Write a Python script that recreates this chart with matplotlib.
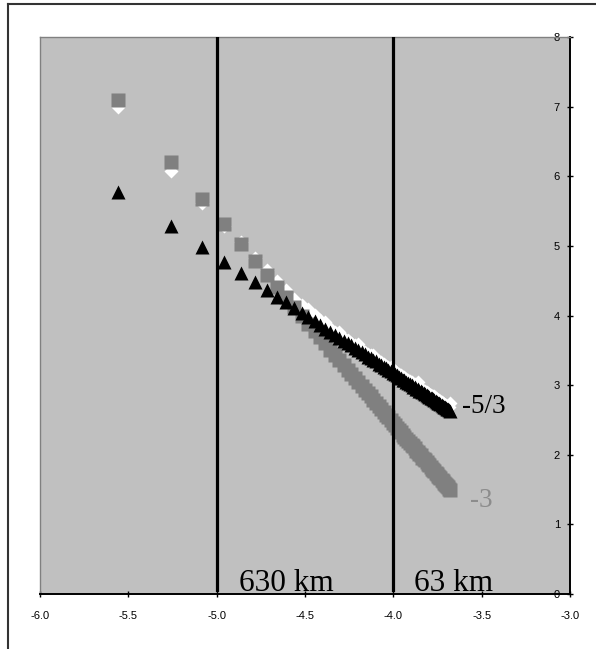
import matplotlib
matplotlib.use("Agg")
import matplotlib.pyplot as plt
from matplotlib.lines import Line2D

# log10 wavenumber (shared by all three spectra)
log_k = [-5.560, -5.259, -5.083, -4.958, -4.861, -4.782, -4.715, -4.657, -4.606, -4.560,
         -4.519, -4.481, -4.446, -4.414, -4.384, -4.356, -4.330, -4.305, -4.281, -4.259,
         -4.238, -4.218, -4.198, -4.180, -4.162, -4.145, -4.129, -4.113, -4.098, -4.083,
         -4.069, -4.055, -4.041, -4.029, -4.016, -4.004, -3.992, -3.980, -3.969, -3.958,
         -3.947, -3.937, -3.927, -3.917, -3.907, -3.897, -3.888, -3.879, -3.870, -3.861,
         -3.852, -3.844, -3.836, -3.828, -3.820, -3.812, -3.804, -3.797, -3.789, -3.782,
         -3.775, -3.768, -3.761, -3.754, -3.747, -3.740, -3.734, -3.727, -3.721, -3.715,
         -3.709, -3.703, -3.697, -3.691, -3.685, -3.679]

# log10 spectral power, -3 slope series (grey squares)
spec_sq = [7.10, 6.20, 5.68, 5.31, 5.02, 4.78, 4.58, 4.41, 4.26, 4.12,
           4.00, 3.88, 3.78, 3.69, 3.60, 3.51, 3.43, 3.36, 3.29, 3.22,
           3.16, 3.10, 3.04, 2.99, 2.93, 2.88, 2.84, 2.79, 2.74, 2.70,
           2.66, 2.62, 2.57, 2.54, 2.50, 2.46, 2.43, 2.39, 2.36, 2.33,
           2.29, 2.26, 2.23, 2.20, 2.17, 2.14, 2.12, 2.09, 2.06, 2.04,
           2.01, 1.99, 1.96, 1.94, 1.92, 1.89, 1.87, 1.85, 1.82, 1.80,
           1.78, 1.76, 1.74, 1.72, 1.70, 1.68, 1.66, 1.64, 1.62, 1.60,
           1.58, 1.57, 1.55, 1.53, 1.51, 1.49]

# combined spectrum (white diamonds)
spec_dm = [7.00, 6.08, 5.62, 5.29, 5.05, 4.83, 4.66, 4.49, 4.36, 4.23,
           4.15, 4.10, 4.01, 3.93, 3.90, 3.82, 3.77, 3.76, 3.68, 3.65,
           3.61, 3.58, 3.59, 3.51, 3.48, 3.45, 3.43, 3.43, 3.38, 3.35,
           3.33, 3.30, 3.28, 3.26, 3.26, 3.22, 3.20, 3.18, 3.16, 3.14,
           3.12, 3.11, 3.09, 3.07, 3.06, 3.04, 3.02, 3.01, 2.99, 3.04,
           2.96, 2.95, 2.94, 2.92, 2.91, 2.90, 2.88, 2.87, 2.86, 2.85,
           2.84, 2.85, 2.81, 2.80, 2.79, 2.78, 2.77, 2.76, 2.74, 2.73,
           2.72, 2.71, 2.70, 2.69, 2.68, 2.75]

# -5/3 slope series (black triangles)
spec_tr = [5.78, 5.28, 4.98, 4.77, 4.61, 4.48, 4.37, 4.27, 4.19, 4.11,
           4.04, 3.98, 3.92, 3.86, 3.81, 3.77, 3.72, 3.68, 3.64, 3.61,
           3.57, 3.54, 3.50, 3.47, 3.44, 3.41, 3.39, 3.36, 3.34, 3.31,
           3.29, 3.26, 3.24, 3.22, 3.20, 3.18, 3.16, 3.14, 3.12, 3.10,
           3.08, 3.07, 3.05, 3.03, 3.02, 3.00, 2.98, 2.97, 2.95, 2.94,
           2.92, 2.91, 2.90, 2.88, 2.87, 2.86, 2.84, 2.83, 2.82, 2.81,
           2.80, 2.78, 2.77, 2.76, 2.75, 2.74, 2.73, 2.72, 2.70, 2.69,
           2.68, 2.67, 2.66, 2.65, 2.64, 2.63]

# wavelength markers
scale_x = [-5.0, -4.0]
scale_lbl = ["630 km", "63 km"]
scale_lbl_x = [-4.874, -3.883]

slope_lbl = ["-5/3", "-3"]
slope_pos = [(-3.614, 2.60), (-3.566, 1.25)]
slope_col = ["black", "#8c8c8c"]

xticks = [-6.0, -5.5, -5.0, -4.5, -4.0, -3.5, -3.0]
yticks = [0, 1, 2, 3, 4, 5, 6, 7, 8]

fig = plt.figure(figsize=(5.96, 6.49), dpi=100)
ax = fig.add_axes([40/596, 55/649, 530/596, 557/649])
ax.set_facecolor("#c0c0c0")

# outer frame
fig.add_artist(Line2D([8/596, 8/596], [0, 1 - 4/649], color="#333333", lw=1.5,
                      transform=fig.transFigure))
fig.add_artist(Line2D([8/596, 1], [1 - 4/649, 1 - 4/649], color="#333333", lw=1.5,
                      transform=fig.transFigure))

ax.plot(log_k, spec_dm, ls="none", marker="D", ms=7.2, mfc="white", mec="none", zorder=3)
ax.plot(log_k, spec_sq, ls="none", marker="s", ms=10, mfc="#808080", mec="none", zorder=4)
ax.plot(log_k, spec_tr, ls="none", marker="^", ms=10, mfc="black", mec="none", zorder=5)

for xv, lbl, lx in zip(scale_x, scale_lbl, scale_lbl_x):
    ax.plot([xv, xv], [0.06, 8], color="black", lw=2.3, zorder=6)
    ax.text(lx, 0.04, lbl, fontsize=22.5, family="Liberation Serif",
            va="baseline", ha="left", zorder=7)

for lbl, (lx, ly), c in zip(slope_lbl, slope_pos, slope_col):
    ax.text(lx, ly, lbl, fontsize=19.5, family="Liberation Serif", color=c,
            va="baseline", ha="left", zorder=7)

ax.set_xlim(-6, -3)
ax.set_ylim(0, 8)
ax.set_xticks(xticks)
ax.set_xticklabels(["%.1f" % v for v in xticks])
ax.set_yticks(yticks)
ax.set_yticklabels([str(v) for v in yticks])

ax.yaxis.tick_right()
ax.tick_params(axis="x", direction="inout", length=5, width=1, pad=10,
               labelsize=8, labelfontfamily="Liberation Sans")
ax.tick_params(axis="y", direction="inout", length=5, width=1, pad=-9.7,
               labelsize=8, labelfontfamily="Liberation Sans")
for t in ax.get_yticklabels():
    t.set_horizontalalignment("right")

ax.spines["left"].set_color("#808080")
ax.spines["top"].set_color("#808080")
ax.spines["left"].set_linewidth(1)
ax.spines["top"].set_linewidth(1)
ax.spines["bottom"].set_linewidth(1.4)
ax.spines["right"].set_linewidth(1.4)

fig.savefig("out.png", dpi=100)
